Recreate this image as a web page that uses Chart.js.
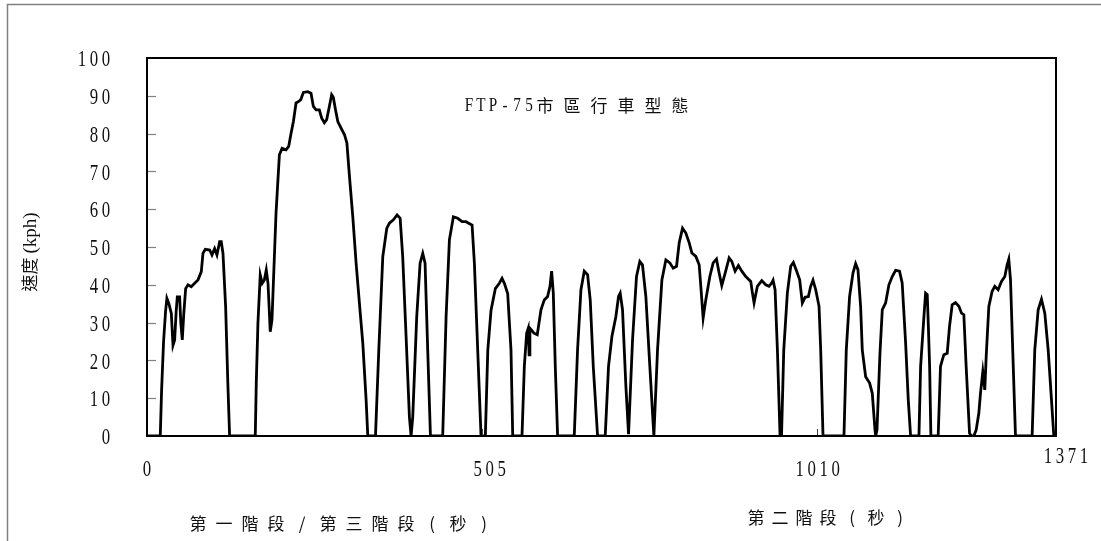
<!DOCTYPE html>
<html>
<head>
<meta charset="utf-8">
<script src="https://cdn.jsdelivr.net/npm/chart.js@4/dist/chart.umd.min.js"></script>
<style>
  html, body { margin: 0; padding: 0; background: #fff; }
  canvas { display: block; }
</style>
</head>
<body>
<canvas id="cycle" width="1101" height="541"></canvas>
<script>
// FTP-75 urban driving cycle: elapsed time (s) and vehicle speed (kph)
const timeSec = [
  0, 20, 22, 25, 28, 30, 33, 36.7, 39.2, 41.7, 44, 45.7, 49.2, 51, 53.2, 55.5, 58.3, 61.8,
  66.8, 71.8, 76.9, 81.9, 84.4, 87.9, 94.5, 98, 102, 105.5, 109.6, 112, 114.6, 118.6, 122.1, 124.6,
  163.3, 164.8, 167.3, 170.8, 173.8, 177, 179.9, 182.5, 185.9, 188.5, 192.1, 194.6, 197.2, 199.7,
  203.7, 209.7, 213.7, 217.3, 220.8, 224.8, 228.8, 232, 235.9, 242.4, 247.4, 250.9, 255, 259.9,
  263.5, 267.5, 271, 274.5, 278.5, 281, 284.3, 287.8, 292.9, 297.9, 301.5, 305.4, 310.4, 315.4,
  320.4, 325.5, 330.5, 333, 344.6, 349.6, 355.6, 361.6, 365.6, 371.6, 377.2, 381.8, 385.7, 390.8,
  395.8, 398.3, 400.8, 406.8, 411.9, 415.9, 419.4, 423.4, 427.5, 446, 451.1, 456.1, 462.1, 468.6,
  475.2, 481.2, 485.2, 490.3, 493.8, 498.8, 503.8, 510.3, 514, 518.9, 525.4, 531.4, 535.5, 539,
  544, 549, 551.6, 565.6, 569.1, 572.6, 575, 576.3, 577.5, 580, 583.6, 588.6, 594.2, 599.2, 604.2,
  607.8, 610.3, 612.8, 615.8, 619.3, 644.4, 649.4, 654.5, 659.5, 664.5, 668.5, 673.1, 679.6, 691.1,
  696.1, 701.2, 707.2, 711.2, 713.7, 717.2, 722.3, 726.3, 732.3, 738.3, 743.3, 747.3, 752.4, 758.4,
  764.5, 770, 776.6, 782.6, 788.6, 793.6, 798.7, 802.7, 807.7, 812.7, 817.8, 821.8, 827.8, 832.8,
  835.3, 838.8, 842.8, 848.9, 853.9, 858.9, 862.9, 866.9, 872, 878, 882, 887, 892, 897.1, 903.1,
  910.6, 913, 915.6, 920.6, 927.2, 933.2, 938.2, 942.3, 944.3, 947.3, 950.8, 954.8, 957, 960.4,
  965.8, 970.9, 974.9, 979.9, 984.4, 988.4, 992.5, 997.5, 1001, 1004.5, 1008.6, 1013.6, 1016.1,
  1019.6, 1051.2, 1054.7, 1059.7, 1064.8, 1068.8, 1072.3, 1076.3, 1078.8, 1083.9, 1089.9, 1093.9,
  1098, 1099, 1101, 1105.5, 1109, 1114, 1119, 1124, 1129.1, 1135, 1139, 1144.2, 1148.2, 1151.7,
  1164.3, 1166.8, 1171.8, 1174.3, 1176.8, 1178.5, 1180.4, 1182.3, 1193.3, 1196.8, 1201.8, 1206.9,
  1210.4, 1214.4, 1219.4, 1224.5, 1228.5, 1232, 1235.5, 1240.6, 1243.6, 1247.1, 1250.6, 1254.6,
  1257.1, 1260.6, 1263.6, 1265.7, 1269.7, 1274.7, 1278.7, 1283.7, 1288.8, 1293.8, 1297.3, 1299.8,
  1302.4, 1305.9, 1309.9, 1335, 1339, 1344.1, 1349.1, 1354.1, 1359.2, 1364.2, 1367.7, 1371
];
const speedKph = [
  0, 0, 12, 25, 33, 36.4, 35, 32.4, 24, 25.4, 33, 36.8, 36.8, 30, 25.4, 32.4, 39, 40,
  39.5, 40.4, 41.3, 43.5, 48.3, 49.4, 49.2, 47.9, 49.6, 47.9, 51.4, 51.4, 48.3, 34.2, 13, 0,
  0, 13.9, 29.8, 42.6, 40.4, 41.3, 43.9, 40.4, 27.6, 30.7, 47.4, 58.9, 66.9, 74.4,
  76.1, 75.7, 76.6, 80.1, 83.2, 88.1, 88.5, 89, 90.9, 91.1, 90.7, 87.2, 86.3, 86.3,
  84.1, 82.9, 83.7, 86.7, 90.3, 89.6, 86.3, 83.2, 81.4, 79.7, 77.5, 68.6, 58, 45.7,
  35.1, 24.5, 9.5, 0, 0, 22.7, 47.4, 54.9, 56.3, 57.2, 58.5, 57.6, 47.4, 26.2,
  5, 0, 5, 31.5, 45.7, 48.3, 45.7, 22.7, 0, 0, 31.5, 51.9, 58, 57.6,
  56.7, 56.7, 56.3, 55.8, 45.7, 22.7, 0, 0, 22.7, 33.3, 39, 40.4, 41.7, 40.4,
  37.7, 22.7, 0, 0, 18.4, 27.2, 28.5, 21.5, 28.5, 28, 27.2, 26.8, 33.4, 36, 36.9,
  39.6, 43.6, 37.8, 18.4, 0, 0, 22.8, 38.7, 43.6, 42.7, 36, 18.4, 0, 0,
  18.4, 26.3, 31.6, 36.9, 37.8, 33.4, 13.1, 0.5, 25.4, 42.2, 46.2, 45.3, 36.9, 18.4,
  0, 22.8, 41.3, 46.6, 45.8, 44.4, 44.9, 51.1, 55, 53.7, 51.1, 48.4, 47.5, 45.3,
  39.6, 31.2, 36, 42.2, 45.8, 46.8, 43.1, 39.8, 43.1, 47.1, 46.2, 43.6, 45.1, 43.6, 42.2,
  40.9, 38, 35.2, 39.6, 41.1, 40, 39.6, 40.5, 41.2, 38.7, 22.8, 0, 0, 22.8,
  37.8, 44.9, 45.9, 43.6, 41.3, 35.2, 36.7, 36.9, 39.6, 41.2, 38.7, 34.3, 22.8,
  0, 0, 22.8, 36.9, 43.1, 45.6, 44, 34.3, 22.8, 15.7, 14, 11.3,
  1.6, 0, 1.6, 21.9, 33.4, 35.2, 40, 42.2, 43.8, 43.6, 40.5, 24.6, 9.5, 0,
  0, 18.4, 31.6, 37.8, 37.4, 29, 18.4, 0, 0, 18.4, 21.5, 21.9,
  29, 34.7, 35.3, 34.3, 32.5, 32.1, 18.4, 0.7, 0, 0, 1.6, 6,
  11.3, 17, 12.2, 21, 34.3, 38.3, 39.6, 38.7, 40.9, 42.2, 45.3, 46.8,
  41.3, 21.9, 0, 0, 22.8, 33.4, 36.2, 32.5, 22.8, 9.5, 0, 0
];

// Axis ticks and labels
const yTickValues = [0, 10, 20, 30, 40, 50, 60, 70, 80, 90, 100];
const xTickValues = [0, 505, 1010, 1371];
const xTickLabels = ['0', '505', '1010', '1371'];

// Texts
const chartTitleLatin = 'FTP-75';
const chartTitleCjk = '市區行車型態';
const yAxisTitleCjk = '速度';
const yAxisTitleLatin = '(kph)';
const xTitlePhase13 = '第一階段/第三階段(秒)';
const xTitlePhase2 = '第二階段(秒)';

// Styling
const SERIF = '"Liberation Serif", "DejaVu Serif", serif';
const CJK = '"Noto Sans CJK TC", "Noto Sans CJK SC", sans-serif';
const xLabelNudge = [0, 8, 1, 10];     // horizontal nudge of each x label
const xLabelDrop = [34, 34, 34, 21];   // distance of each x label below the axis

// Draws text one glyph per fixed-width cell, optionally squeezed horizontally
function drawPitched(ctx, text, x, y, pitch, font, sx, align) {
  const chars = Array.from(text);
  const total = chars.length * pitch;
  let start = x;
  if (align === 'center') start = x - total / 2;
  else if (align === 'right') start = x - total;
  ctx.save();
  ctx.font = font;
  ctx.textAlign = 'center';
  ctx.textBaseline = 'middle';
  chars.forEach((ch, i) => {
    ctx.save();
    ctx.translate(start + (i + 0.5) * pitch, y);
    ctx.scale(sx, 1);
    ctx.fillText(ch, 0, 0);
    ctx.restore();
  });
  ctx.restore();
}

const decorPlugin = {
  id: 'decor',
  beforeDraw(chart) {
    const ctx = chart.ctx;
    ctx.save();
    ctx.fillStyle = '#fff';
    ctx.fillRect(0, 0, chart.width, chart.height);
    // outer chart frame
    ctx.strokeStyle = '#808080';
    ctx.lineWidth = 1.5;
    ctx.beginPath();
    ctx.moveTo(7.5, chart.height + 2);
    ctx.lineTo(7.5, 4.5);
    ctx.lineTo(chart.width + 2, 4.5);
    ctx.stroke();
    ctx.restore();
  },
  afterDatasetsDraw(chart) {
    const ctx = chart.ctx;
    const a = chart.chartArea;
    const xs = chart.scales.x;
    const ys = chart.scales.y;
    ctx.save();

    // inner tick marks on the speed axis
    ctx.strokeStyle = '#808080';
    ctx.lineWidth = 1.2;
    yTickValues.forEach(v => {
      if (v === 0 || v === 100) return;
      const py = Math.round(ys.getPixelForValue(v)) + 0.5;
      ctx.beginPath();
      ctx.moveTo(a.left, py);
      ctx.lineTo(a.left + 9, py);
      ctx.stroke();
    });
    // small tick marks on the time axis
    ctx.strokeStyle = '#404040';
    ctx.lineWidth = 1;
    [505, 1010].forEach(v => {
      const px = Math.round(xs.getPixelForValue(v)) + 0.5;
      ctx.beginPath();
      ctx.moveTo(px, a.bottom);
      ctx.lineTo(px, a.bottom - 7);
      ctx.stroke();
    });

    // plot frame
    ctx.strokeStyle = '#000';
    ctx.lineWidth = 2;
    ctx.strokeRect(a.left, a.top, a.right - a.left, a.bottom - a.top);

    ctx.fillStyle = '#111';
    const numFont = '24px ' + SERIF;
    // speed tick labels
    yTickValues.forEach(v => {
      const py = ys.getPixelForValue(v) + 2;
      drawPitched(ctx, String(v), 112, py, 12, numFont, 0.7, 'right');
    });
    // time tick labels
    xTickValues.forEach((v, i) => {
      const px = xs.getPixelForValue(v) + xLabelNudge[i];
      drawPitched(ctx, xTickLabels[i], px, a.bottom + xLabelDrop[i], 12, numFont, 0.7, 'center');
    });

    // chart title inside the plot
    drawPitched(ctx, chartTitleLatin, 463, 106, 12, '19px ' + SERIF, 0.8, 'left');
    drawPitched(ctx, chartTitleCjk, 537 - 5.5, 106, 27, '17px ' + CJK, 1, 'left');

    // time axis titles
    drawPitched(ctx, xTitlePhase13, 190 - 5, 524, 26, '17px ' + CJK, 1, 'left');
    drawPitched(ctx, xTitlePhase2, 748 - 4, 518, 24, '17px ' + CJK, 1, 'left');

    // speed axis title, rotated
    ctx.save();
    ctx.translate(30, 252);
    ctx.rotate(-Math.PI / 2);
    ctx.textBaseline = 'middle';
    ctx.textAlign = 'left';
    ctx.font = '17px ' + CJK;
    const wC = ctx.measureText(yAxisTitleCjk).width;
    ctx.font = '19px ' + SERIF;
    const wL = ctx.measureText(yAxisTitleLatin).width;
    const x0 = -(wC + wL + 4) / 2;
    ctx.font = '17px ' + CJK;
    ctx.fillText(yAxisTitleCjk, x0, 0);
    ctx.font = '19px ' + SERIF;
    ctx.fillText(yAxisTitleLatin, x0 + wC + 4, 1);
    ctx.restore();

    ctx.restore();
  }
};

const points = timeSec.map((t, i) => ({ x: t, y: speedKph[i] }));

new Chart(document.getElementById('cycle'), {
  type: 'line',
  data: {
    datasets: [{
      data: points,
      borderColor: '#000',
      borderWidth: 2.8,
      pointRadius: 0,
      tension: 0,
      fill: false
    }]
  },
  options: {
    responsive: false,
    animation: false,
    layout: { padding: { left: 147, top: 58, right: 45, bottom: 105 } },
    plugins: { legend: { display: false }, tooltip: { enabled: false } },
    scales: {
      x: { type: 'linear', min: 0, max: 1371, display: false },
      y: { min: 0, max: 100, display: false }
    }
  },
  plugins: [decorPlugin]
});
</script>
</body>
</html>
